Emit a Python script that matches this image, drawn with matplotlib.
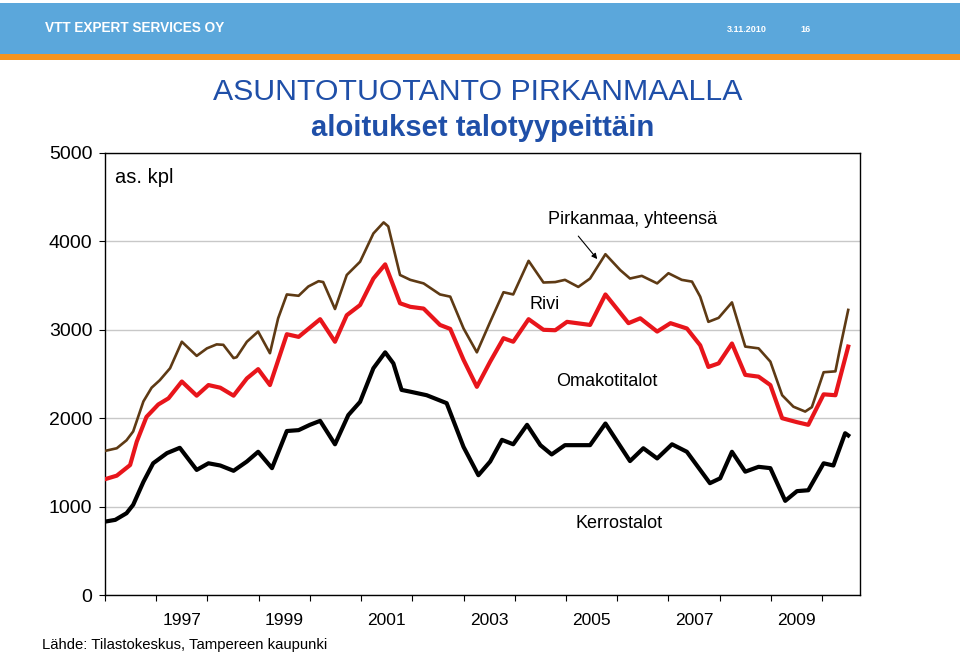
import numpy as np
import matplotlib
matplotlib.use("Agg")
import matplotlib.pyplot as plt
from matplotlib.patches import Rectangle

plt.rcParams['font.family'] = ['Liberation Sans', 'DejaVu Sans']

# Pirkanmaa yhteensä (kumulatiivinen summa, ruskea)
total_years = [1996.00, 1996.23, 1996.42, 1996.55, 1996.75, 1996.91, 1997.07, 1997.27, 1997.50, 1997.79,
               1997.99, 1998.18, 1998.31, 1998.51, 1998.57, 1998.77, 1998.99, 1999.22, 1999.38, 1999.55,
               1999.78, 1999.97, 2000.17, 2000.26, 2000.49, 2000.72, 2000.98, 2001.24, 2001.44, 2001.53,
               2001.76, 2001.96, 2002.22, 2002.54, 2002.74, 2003.00, 2003.26, 2003.52, 2003.78, 2003.97,
               2004.27, 2004.56, 2004.79, 2004.98, 2005.24, 2005.47, 2005.77, 2006.06, 2006.25, 2006.48,
               2006.78, 2007.00, 2007.26, 2007.46, 2007.62, 2007.78, 2007.98, 2008.24, 2008.50, 2008.76,
               2008.99, 2009.22, 2009.44, 2009.67, 2009.80, 2010.03, 2010.26, 2010.35, 2010.51]
total_vals = [1630, 1660, 1750, 1850, 2190, 2345, 2430, 2565, 2865, 2705,
              2790, 2835, 2830, 2680, 2690, 2865, 2980, 2735, 3130, 3400,
              3385, 3490, 3550, 3540, 3235, 3620, 3770, 4090, 4215, 4170,
              3620, 3565, 3525, 3400, 3375, 3015, 2745, 3090, 3425, 3400,
              3780, 3535, 3540, 3565, 3485, 3580, 3855, 3675, 3580, 3610,
              3525, 3640, 3565, 3545, 3375, 3090, 3135, 3310, 2810, 2790,
              2640, 2260, 2130, 2075, 2125, 2520, 2530, 2790, 3225]

# Kerrostalot + rivitalot (punainen)
rivi_years = [1996.00, 1996.23, 1996.49, 1996.62, 1996.81, 1997.04, 1997.24, 1997.50, 1997.79, 1998.02,
              1998.25, 1998.51, 1998.77, 1998.99, 1999.22, 1999.55, 1999.78, 2000.20, 2000.49, 2000.72,
              2000.98, 2001.24, 2001.47, 2001.76, 2001.96, 2002.22, 2002.54, 2002.74, 2003.00, 2003.26,
              2003.52, 2003.78, 2003.97, 2004.27, 2004.56, 2004.79, 2005.02, 2005.47, 2005.77, 2006.22,
              2006.45, 2006.78, 2007.04, 2007.36, 2007.62, 2007.78, 2007.98, 2008.24, 2008.50, 2008.76,
              2008.99, 2009.22, 2009.51, 2009.73, 2010.03, 2010.26, 2010.51]
rivi_vals = [1310, 1350, 1470, 1735, 2015, 2155, 2225, 2415, 2255, 2375,
             2345, 2255, 2450, 2555, 2375, 2950, 2920, 3120, 2865, 3165,
             3280, 3580, 3740, 3300, 3260, 3240, 3055, 3010, 2660, 2355,
             2640, 2905, 2865, 3120, 3000, 2995, 3090, 3055, 3400, 3075,
             3130, 2980, 3075, 3015, 2825, 2580, 2620, 2845, 2490, 2470,
             2375, 2000, 1955, 1925, 2270, 2260, 2810]

# Kerrostalot (musta)
kerros_years = [1996.00, 1996.20, 1996.42, 1996.55, 1996.75, 1996.94, 1997.21, 1997.46, 1997.79, 1998.02,
                1998.25, 1998.51, 1998.77, 1998.99, 1999.26, 1999.55, 1999.78, 2000.00, 2000.20, 2000.49,
                2000.75, 2000.98, 2001.24, 2001.47, 2001.63, 2001.79, 2001.96, 2002.28, 2002.67, 2003.00,
                2003.29, 2003.52, 2003.75, 2003.97, 2004.24, 2004.50, 2004.72, 2004.98, 2005.47, 2005.77,
                2006.25, 2006.51, 2006.78, 2007.07, 2007.36, 2007.62, 2007.81, 2008.01, 2008.24, 2008.50,
                2008.76, 2008.99, 2009.28, 2009.51, 2009.73, 2010.03, 2010.22, 2010.45, 2010.51]
kerros_vals = [830, 850, 925, 1020, 1280, 1490, 1605, 1665, 1415, 1490,
               1465, 1405, 1510, 1620, 1435, 1855, 1865, 1925, 1970, 1705,
               2035, 2185, 2565, 2745, 2620, 2320, 2300, 2260, 2170, 1675,
               1355, 1510, 1755, 1705, 1925, 1695, 1590, 1695, 1695, 1940,
               1515, 1660, 1545, 1705, 1620, 1415, 1265, 1320, 1620, 1395,
               1450, 1435, 1065, 1175, 1185, 1490, 1465, 1830, 1805]

tick_years = list(range(1996, 2011))
label_years = [1997, 1999, 2001, 2003, 2005, 2007, 2009]

fig = plt.figure(figsize=(9.6, 6.54), dpi=100)

# otsikkopalkki
fig.patches.append(Rectangle((0, 1 - 54 / 654), 1, 51 / 654, transform=fig.transFigure,
                             facecolor='#5BA7DB', edgecolor='none', zorder=0))
fig.patches.append(Rectangle((0, 1 - 60 / 654), 1, 6 / 654, transform=fig.transFigure,
                             facecolor='#F7941E', edgecolor='none', zorder=0))
fig.text(45 / 960, 1 - 28 / 654, 'VTT EXPERT SERVICES OY', color='white', fontsize=9.8,
         fontweight='bold', va='center', ha='left')
fig.text(727 / 960, 1 - 29 / 654, '3.11.2010', color='white', fontsize=6.5,
         fontweight='bold', va='center', ha='left')
fig.text(800 / 960, 1 - 29 / 654, '16', color='white', fontsize=6.5,
         fontweight='bold', va='center', ha='left')

fig.text(478 / 960, 1 - 92 / 654, 'ASUNTOTUOTANTO PIRKANMAALLA', color='#1F4FA8',
         fontsize=21.8, ha='center', va='center')
fig.text(483 / 960, 1 - 128 / 654, 'aloitukset talotyypeittäin', color='#1F4FA8',
         fontsize=21.1, fontweight='bold', ha='center', va='center')

ax = fig.add_axes([105 / 960, 1 - 595 / 654, 755 / 960, 442 / 654])
ax.plot(total_years, total_vals, color='#5E3A14', lw=1.9, zorder=3)
ax.plot(rivi_years, rivi_vals, color='#E8151B', lw=3.0, zorder=3)
ax.plot(kerros_years, kerros_vals, color='black', lw=3.0, zorder=3)

ax.set_xlim(1996, 2010.74)
ax.set_ylim(0, 5000)
ax.set_yticks([0, 1000, 2000, 3000, 4000, 5000])
ax.tick_params(axis='y', labelsize=14, length=4.5, direction='out', pad=4.5)
ax.grid(axis='y', color='#C8C8C8', lw=1)
ax.set_axisbelow(True)

ax.set_xticks(tick_years)
ax.set_xticklabels([])
ax.set_xticks([y + 0.5 for y in label_years], minor=True)
ax.set_xticklabels([str(y) for y in label_years], minor=True)
ax.tick_params(axis='x', which='major', length=4.5, direction='out')
ax.tick_params(axis='x', which='minor', length=0, labelsize=12.5, pad=13)

for s in ax.spines.values():
    s.set_color('black')
    s.set_linewidth(1)

ax.text(0.013, 0.965, 'as. kpl', transform=ax.transAxes, fontsize=14.5, va='top', ha='left')
ax.text(2006.29, 4253, 'Pirkanmaa, yhteensä', fontsize=13, ha='center', va='center')
ax.annotate('', xy=(2005.61, 3800), xytext=(2005.24, 4060),
            arrowprops=dict(arrowstyle='-|>', color='black', lw=0.8, mutation_scale=8,
                            shrinkA=0, shrinkB=0))
ax.text(2004.59, 3291, 'Rivi', fontsize=13, ha='center', va='center')
ax.text(2005.80, 2420, 'Omakotitalot', fontsize=13, ha='center', va='center')
ax.text(2006.04, 814, 'Kerrostalot', fontsize=13, ha='center', va='center')

fig.text(42 / 960, 1 - 645 / 654, 'Lähde: Tilastokeskus, Tampereen kaupunki', fontsize=10.7,
         ha='left', va='center')

fig.savefig('out.png', dpi=100)
